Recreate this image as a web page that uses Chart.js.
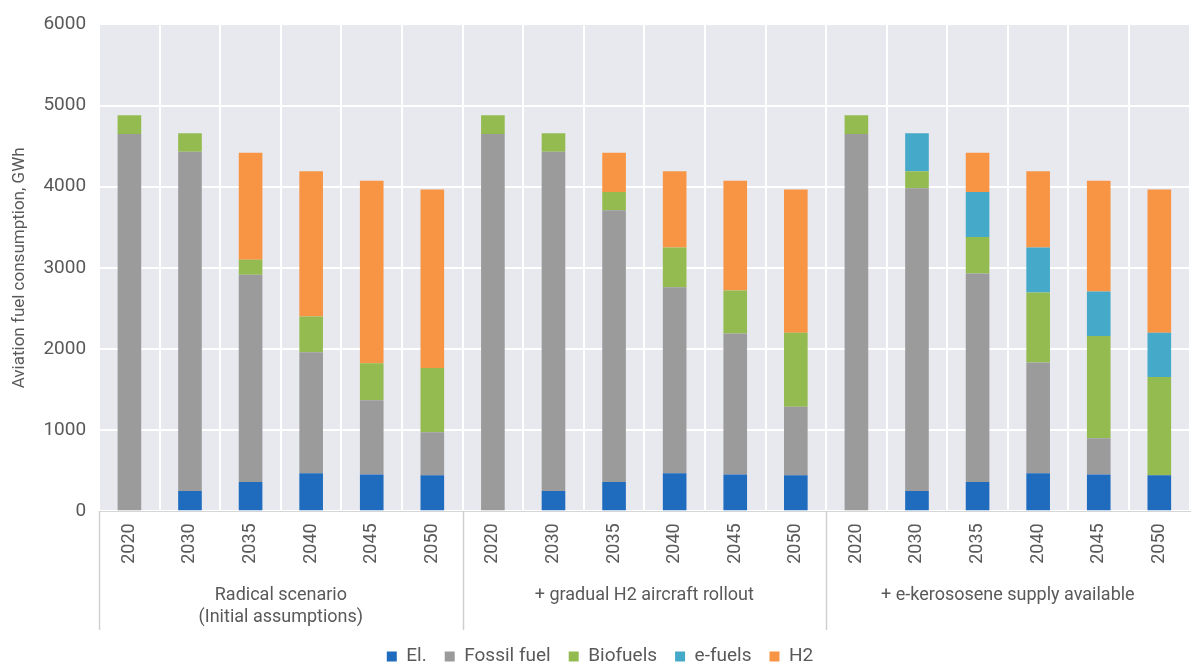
<!DOCTYPE html>
<html>
<head>
<meta charset="utf-8">
<script src="https://cdn.jsdelivr.net/npm/chart.js@4.4.0/dist/chart.umd.min.js"></script>
<style>
  html, body { margin: 0; padding: 0; background: #fff; }
  #wrap { width: 1193px; height: 668px; }
</style>
</head>
<body>
<div id="wrap"><canvas id="myChart"></canvas></div>
<script>
var groups = [["Radical scenario", "(Initial assumptions)"], "+ gradual H2 aircraft rollout", "+ e-kerososene supply available"];
var years = ["2020", "2030", "2035", "2040", "2045", "2050"];
var yTicks = [0, 1000, 2000, 3000, 4000, 5000, 6000];

var el = [0, 250, 360, 470, 455, 445, 0, 250, 360, 470, 455, 445, 0, 250, 360, 470, 455, 445];
var fossil = [4650, 4180, 2555, 1490, 915, 530, 4650, 4180, 3350, 2290, 1735, 845, 4650, 3730, 2570, 1365, 445, 0];
var biofuels = [230, 230, 185, 440, 455, 790, 230, 230, 225, 490, 530, 910, 230, 210, 450, 860, 1260, 1210];
var efuels = [0, 0, 0, 0, 0, 0, 0, 0, 0, 0, 0, 0, 0, 470, 555, 555, 550, 545];
var h2 = [0, 0, 1320, 1790, 2250, 2200, 0, 0, 485, 940, 1355, 1765, 0, 0, 485, 940, 1365, 1765];

var labels = [];
groups.forEach(function () {
  years.forEach(function (y) { labels.push(y); });
});

var textColor = "#595959";
Chart.defaults.font.family = "Roboto";
Chart.defaults.color = textColor;

// grey plot background
var plotBg = {
  id: "plotBg",
  beforeDraw: function (chart) {
    var a = chart.chartArea;
    var c = chart.ctx;
    c.save();
    c.fillStyle = "#E8E9EF";
    c.fillRect(a.left, a.top, a.right - a.left, a.bottom - a.top);
    c.restore();
  },
};

// separators between the scenario groups, below the plot
var groupLines = {
  id: "groupLines",
  afterDraw: function (chart) {
    var x = chart.scales.x;
    var g = chart.scales.x2;
    var half = (x.getPixelForValue(1) - x.getPixelForValue(0)) / 2;
    var c = chart.ctx;
    c.save();
    c.strokeStyle = "#D0D0D0";
    c.lineWidth = 1.5;
    for (var i = 0; i < groups.length; i++) {
      var px = Math.round(x.getPixelForValue(i * years.length) - half) + 0.5;
      c.beginPath();
      c.moveTo(px, chart.chartArea.bottom);
      c.lineTo(px, g.bottom + 1);
      c.stroke();
    }
    c.restore();
  },
};

var ctx = document.getElementById("myChart").getContext("2d");
var myChart = new Chart(ctx, {
  type: "bar",
  data: {
    labels: labels,
    datasets: [
      { label: "El.", data: el, backgroundColor: "#1F6BBE" },
      { label: "Fossil fuel", data: fossil, backgroundColor: "#9B9B9B" },
      { label: "Biofuels", data: biofuels, backgroundColor: "#94BB50" },
      { label: "e-fuels", data: efuels, backgroundColor: "#45A9C9" },
      { label: "H2", data: h2, backgroundColor: "#F79545" },
    ],
  },
  options: {
    responsive: true,
    maintainAspectRatio: false,
    animation: false,
    barPercentage: 0.39,
    categoryPercentage: 1,
    layout: { padding: { top: -2, left: 10, right: 3, bottom: -8 } },
    scales: {
      x: {
        stacked: true,
        offset: true,
        grid: { color: "#FFFFFF", lineWidth: 2, offset: true, drawTicks: false },
        border: { display: true, color: "#D6D6D6" },
        ticks: { minRotation: 90, maxRotation: 90, autoSkip: false, padding: 12, font: { size: 18 } },
      },
      x2: {
        type: "category",
        labels: groups,
        position: "bottom",
        offset: true,
        grid: { display: false },
        border: { display: false },
        ticks: { maxRotation: 0, autoSkip: false, padding: 1, font: { size: 18 } },
      },
      y: {
        stacked: true,
        min: 0,
        max: 6000,
        afterBuildTicks: function (axis) {
          axis.ticks = yTicks.map(function (v) { return { value: v }; });
        },
        grid: { color: "#FFFFFF", lineWidth: 2, drawTicks: false },
        border: { display: false },
        ticks: {
          padding: 13,
          font: { size: 19 },
          callback: function (v) { return String(v); },
        },
        title: { display: true, text: "Aviation fuel consumption, GWh", font: { size: 17 }, padding: 0 },
      },
    },
    plugins: {
      legend: {
        display: true,
        position: "bottom",
        labels: { boxWidth: 10, boxHeight: 10, padding: 18, font: { size: 19 } },
      },
      tooltip: { enabled: false },
    },
  },
  plugins: [plotBg, groupLines],
});
</script>
</body>
</html>
